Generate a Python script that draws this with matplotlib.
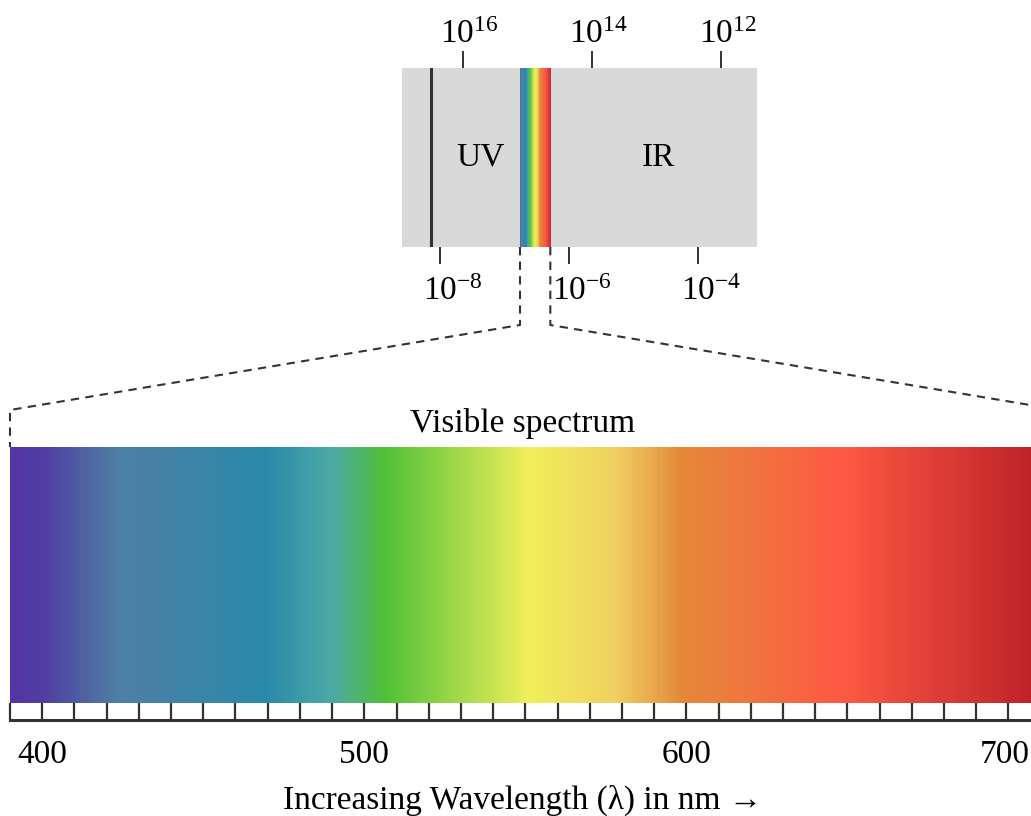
import matplotlib

matplotlib.use("Agg")
import matplotlib.pyplot as plt
import numpy as np
from matplotlib.colors import LinearSegmentedColormap
from matplotlib.lines import Line2D
from matplotlib.transforms import ScaledTranslation

plt.rcParams["font.family"] = ["Liberation Serif", "DejaVu Serif"]
plt.rcParams["mathtext.fontset"] = "custom"
plt.rcParams["mathtext.rm"] = "Liberation Serif"

# visible spectrum colour stops (nm -> colour)
stop_nm = [390, 400, 423, 469, 489, 506, 551, 578, 590, 598, 648, 707, 716]
stop_col = ["#5535a5", "#5040a2", "#4f7fa5", "#2a8aaa", "#4da8a8", "#50c038",
            "#f0f05a", "#f0d062", "#eaa84c", "#e48a3a", "#ff5a44", "#c0242a", "#b81e28"]
vis_range = (390, 716)
major_nm = [400, 500, 600, 700]
minor_step = 10

# top EM-spectrum strip, in log10(wavelength / m)
wl_ticks = [-8, -6, -4]
wl_labels = [r"$\mathregular{10^{-8}}$", r"$\mathregular{10^{-6}}$", r"$\mathregular{10^{-4}}$"]
freq_ticks = [16, 14, 12]
freq_labels = [r"$\mathregular{10^{16}}$", r"$\mathregular{10^{14}}$", r"$\mathregular{10^{12}}$"]
logwl_range = (-8.59, -3.085)
xray_edge = -8.14
visible_band = (-6.76, -6.29)
log_c = 8.35  # log f = log_c - log wavelength (schematic)

W, H = 1031, 816
FS = 24
INK = "#333333"

fig = plt.figure(figsize=(W / 100, H / 100), dpi=100)


def px_box(x0, y0, x1, y1):
    return [x0 / W, 1 - y1 / H, (x1 - x0) / W, (y1 - y0) / H]


def shift_labels(labels, dx_px):
    off = ScaledTranslation(dx_px / 100, 0, fig.dpi_scale_trans)
    for lab in labels:
        lab.set_transform(lab.get_transform() + off)


cmap = LinearSegmentedColormap.from_list(
    "vis",
    [((n - vis_range[0]) / (vis_range[1] - vis_range[0]), c) for n, c in zip(stop_nm, stop_col)],
)
grad = np.linspace(0, 1, 600)[None, :]

# ---- top box
ax_top = fig.add_axes(px_box(402, 68, 757, 247))
ax_top.set_xlim(*logwl_range)
ax_top.set_ylim(0, 1)
ax_top.set_facecolor("#d9d9d9")
for s in ax_top.spines.values():
    s.set_visible(False)
ax_top.axvline(xray_edge, color=INK, lw=2.2)
# visible band drawn with part of the same gradient (415-700 nm)
lo = (415 - vis_range[0]) / (vis_range[1] - vis_range[0])
hi = (700 - vis_range[0]) / (vis_range[1] - vis_range[0])
ax_top.imshow(np.linspace(lo, hi, 100)[None, :], cmap=cmap, vmin=0, vmax=1,
              extent=[visible_band[0], visible_band[1], 0, 1], aspect="auto",
              interpolation="bilinear")
ax_top.set_yticks([])
ax_top.set_xticks(wl_ticks)
ax_top.set_xticklabels(wl_labels, fontsize=FS)
ax_top.tick_params(axis="x", direction="out", length=12, width=1.4, color=INK, pad=9)
shift_labels(ax_top.get_xticklabels(), 13)
ax_top.text(-7.38, 0.5, "UV", fontsize=FS, ha="center", va="center")
ax_top.text(-4.62, 0.5, "IR", fontsize=FS, ha="center", va="center")

sec = ax_top.secondary_xaxis("top", functions=(lambda x: log_c - x, lambda x: log_c - x))
sec.set_xticks(freq_ticks)
sec.set_xticklabels(freq_labels, fontsize=FS)
sec.tick_params(direction="out", length=12, width=1.4, color=INK, pad=1)
sec.spines["top"].set_visible(False)
shift_labels(sec.get_xticklabels(), 7)

# ---- visible spectrum
ax = fig.add_axes(px_box(10, 447, 1060, 720))
ax.set_xlim(*vis_range)
ax.set_ylim(0, 1)
strip = 17 / 273
ax.imshow(grad, cmap=cmap, vmin=0, vmax=1, extent=[vis_range[0], vis_range[1], strip, 1],
          aspect="auto", interpolation="bilinear")
for s in ["top", "left", "right"]:
    ax.spines[s].set_visible(False)
ax.spines["bottom"].set_linewidth(2.2)
ax.spines["bottom"].set_color(INK)
ax.set_yticks([])
ax.set_xticks(major_nm)
ax.set_xticklabels([str(v) for v in major_nm], fontsize=FS)
ax.set_xticks(np.arange(vis_range[0], vis_range[1], minor_step), minor=True)
ax.tick_params(axis="x", which="both", direction="in", length=12.2, width=1.6, color=INK, pad=14)
# last label sits at the figure edge; nudge it inside
shift_labels(ax.get_xticklabels()[-1:], -4)
ax.text(513 / 1050, -(800 - 720) / 273, "Increasing Wavelength (λ) in nm →",
        transform=ax.transAxes, fontsize=FS, ha="center", va="center")
ax.text(513 / 1050, 1.03, "Visible spectrum", transform=ax.transAxes, fontsize=FS,
        ha="center", va="bottom")

# ---- dashed zoom lines
to_fig = fig.transFigure.inverted()


def fig_x(a, xdata):
    return to_fig.transform(a.transData.transform((xdata, 0)))[0]


top_y = to_fig.transform(ax_top.transAxes.transform((0, 0)))[1]
bot_l = to_fig.transform(ax.transAxes.transform((0, 1)))
bot_r = to_fig.transform(ax.transAxes.transform((1, 1)))
kink_y = 1 - 325 / H
diag_y = 1 - 410 / H
for xb, (xe, ye) in [(fig_x(ax_top, visible_band[0]), bot_l), (fig_x(ax_top, visible_band[1]), bot_r)]:
    fig.add_artist(Line2D([xb, xb, xe, xe], [top_y, kink_y, diag_y, ye],
                          transform=fig.transFigure, color=INK, lw=1.5, ls=(0, (4, 3))))

fig.savefig("out.png", dpi=100)
